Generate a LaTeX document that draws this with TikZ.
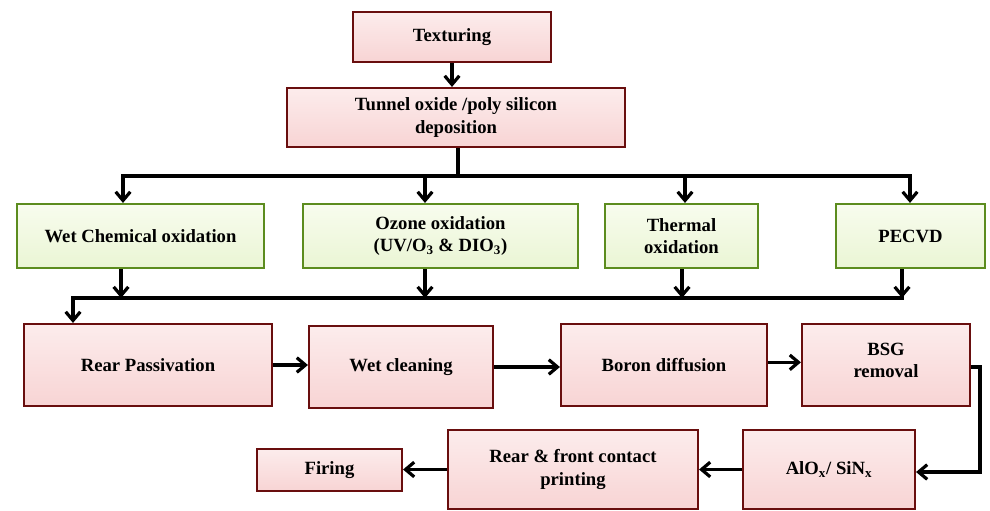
\documentclass[tikz,border=0pt]{standalone}
\usepackage{fontspec}
\setmainfont{Liberation Serif}
\usetikzlibrary{arrows.meta}
\definecolor{pinkA}{RGB}{252,236,236}
\definecolor{pinkB}{RGB}{248,212,212}
\definecolor{redB}{RGB}{105,14,14}
\definecolor{greenA}{RGB}{248,252,238}
\definecolor{greenB}{RGB}{234,245,212}
\definecolor{greenE}{RGB}{92,140,30}
\tikzset{
  pbox/.style={draw=redB, line width=1.6pt, top color=pinkA, bottom color=pinkB,
    align=center, font=\fontsize{14}{17}\selectfont\bfseries, inner sep=2pt},
  gbox/.style={draw=greenE, line width=1.6pt, top color=greenA, bottom color=greenB,
    align=center, font=\fontsize{14}{17}\selectfont\bfseries, inner sep=2pt,
    minimum height=48pt},
  conn/.style={line width=2.4pt, black},
  arr/.style={conn, -{Straight Barb[length=6.5pt,width=11pt]}},
}
\begin{document}
\begin{tikzpicture}[x=0.75pt,y=-0.75pt]
\useasboundingbox (0,0) rectangle (990,511);
% top
\node[pbox, minimum width=148.5pt, minimum height=37.5pt] (tex) at (452,37) {Texturing};
\node[pbox, minimum width=253.5pt, minimum height=44.25pt] (tun) at (456,117.5) {Tunnel oxide /poly silicon\\deposition};
% green
\node[gbox, minimum width=185.25pt] (wet) at (140.5,236) {Wet Chemical oxidation};
\node[gbox, minimum width=206.25pt] (ozo) at (440.5,236) {Ozone oxidation\\(UV/O\textsubscript{3} \& DIO\textsubscript{3})};
\node[gbox, minimum width=114.75pt] (the) at (681.5,236) {Thermal\\oxidation};
\node[gbox, minimum width=111.75pt] (pec) at (910.5,236) {PECVD};
% row 3
\node[pbox, minimum width=186pt, minimum height=61.5pt] (rp) at (148,365) {Rear Passivation};
\node[pbox, minimum width=138pt, minimum height=61.5pt] (wc) at (401,367) {Wet cleaning};
\node[pbox, minimum width=154.5pt, minimum height=61.5pt] (bd) at (664,365) {Boron diffusion};
\node[pbox, minimum width=126pt, minimum height=61.5pt] (bsg) at (886,365) {BSG\\removal\\[-10pt]\mbox{}};
% row 4
\node[pbox, minimum width=129pt, minimum height=59.25pt] (alo) at (829,469.5) {AlO\textsubscript{x}/ SiN\textsubscript{x}};
\node[pbox, minimum width=187.5pt, minimum height=59.25pt] (rfc) at (573,469.5) {Rear \& front contact\\printing};
\node[pbox, minimum width=108.75pt, minimum height=31.5pt] (fir) at (329.5,470) {Firing};
% bus coordinates
\coordinate (b1) at (458,176);
\coordinate (bw) at (123,176);
\coordinate (bo) at (425,176);
\coordinate (bt) at (685,176);
\coordinate (bp) at (910,176);
\coordinate (c0) at (73,298);
\coordinate (cw) at (121,298);
\coordinate (co) at (425,298);
\coordinate (ct) at (682,298);
\coordinate (cp) at (902,298);
\coordinate (r1) at (980,367);
\coordinate (r2) at (980,472);
% connectors
\draw[arr] (tex.south) -- (tex.south |- tun.north);
\draw[conn] (b1 |- tun.south) -- (b1);
\draw[conn] ([xshift=-1.2pt]bw) -- ([xshift=1.2pt]bp);
\draw[arr] (bw) -- (bw |- wet.north);
\draw[arr] (bo) -- (bo |- ozo.north);
\draw[arr] (bt) -- (bt |- the.north);
\draw[arr] (bp) -- (bp |- pec.north);
\draw[arr] (cw |- wet.south) -- (cw);
\draw[arr] (co |- ozo.south) -- (co);
\draw[arr] (ct |- the.south) -- (ct);
\draw[arr] (cp |- pec.south) -- (cp);
\draw[conn] ([xshift=-1.2pt]c0) -- ([xshift=1.2pt]cp);
\draw[arr] (c0) -- (c0 |- rp.north);
\draw[arr] (rp.east) -- (rp.east -| wc.west);
\draw[arr] (wc.east) -- (wc.east -| bd.west);
\draw[arr] ([yshift=2pt]bd.east) -- ([yshift=2pt]bd.east -| bsg.west);
\draw[arr] (bsg.east |- r1) -- (r1) -- (r2) -- (r2 -| alo.east);
\draw[arr] (alo.west) -- (alo.west -| rfc.east);
\draw[arr] (rfc.west) -- (rfc.west -| fir.east);
\end{tikzpicture}
\end{document}
